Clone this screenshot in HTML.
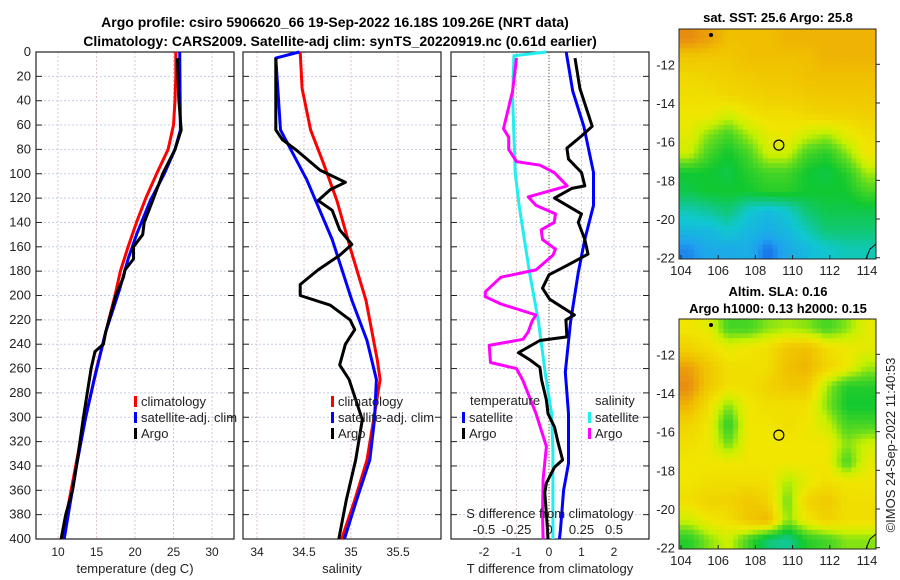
<!DOCTYPE html>
<html><head><meta charset="utf-8">
<style>
html,body{margin:0;padding:0;background:#fff;}
svg{display:block;font-family:"Liberation Sans","DejaVu Sans",sans-serif;}
.t{font-size:12px;fill:#222;}
.b{font-weight:bold;font-size:14px;fill:#000;}
</style></head>
<body>
<svg id="fig" width="900" height="580" viewBox="0 0 900 580" xmlns="http://www.w3.org/2000/svg">
<text class="b" x="335" y="27" text-anchor="middle">Argo profile: csiro 5906620_66 19-Sep-2022 16.18S 109.26E (NRT data)</text>
<text class="b" x="340" y="46" text-anchor="middle">Climatology: CARS2009. Satellite-adj clim: synTS_20220919.nc (0.61d earlier)</text>
<text class="b" x="778" y="22" text-anchor="middle" style="font-size:13px">sat. SST: 25.6 Argo: 25.8</text>
<text class="b" x="778" y="296" text-anchor="middle" style="font-size:13px">Altim. SLA: 0.16</text>
<text class="b" x="778" y="313" text-anchor="middle" style="font-size:13px">Argo h1000: 0.13 h2000: 0.15</text>
<text class="t" transform="translate(895,445) rotate(-90)" text-anchor="middle" style="font-size:13px">©IMOS 24-Sep-2022 11:40:53</text>
<g id="layer"></g>
</svg>
<script>
// ---------- data ----------
const depthTicks=[0,20,40,60,80,100,120,140,160,180,200,220,240,260,280,300,320,340,360,380,400];
const tempTicks=[10,15,20,25,30];
const salTicks=[34,34.5,35,35.5];
const tdiffTicks=[-2,-1,0,1,2];
const sdiffTicks=[-0.5,-0.25,0,0.25,0.5];
const sdiffLabels=["-0.5","-0.25","0","0.25","0.5"];

const tClimDepth=[0,20,40,60,80,100,120,140,160,180,200,220,240,260,280,300,320,340,360,380,400];
const tClimVal=[25.3,25.3,25.2,25.0,24.3,22.8,21.4,20.2,19.1,18.1,17.4,16.6,15.8,15.0,14.3,13.6,12.9,12.3,11.7,11.1,10.6];
const tSatDepth=[0,64,80,100,122,150,170,195,230,269,300,340,370,400];
const tSatVal=[25.8,25.9,25.2,23.8,22.0,20.2,19.1,18.0,16.2,14.7,13.6,12.4,11.6,10.8];
const tArgoDepth=[5,40,64,80,100,122,140,150,160,170,179,185,200,230,240,246,260,300,340,360,380,400];
const tArgoVal=[25.5,25.7,26.0,25.2,23.6,22.3,21.2,21.0,19.8,19.8,18.7,18.5,17.5,16.2,15.9,14.8,14.3,13.3,12.4,11.9,11.0,10.4];

const sClimDepth=[0,30,64,90,122,163,204,253,269,302,335,368,400];
const sClimVal=[34.46,34.48,34.57,34.7,34.85,35.0,35.16,35.28,35.31,35.24,35.17,35.04,34.9];
const sSatDepth=[0,5,64,105,154,204,237,269,302,335,368,400];
const sSatVal=[34.45,34.2,34.25,34.53,34.8,35.01,35.17,35.27,35.25,35.2,35.06,34.93];
const sArgoDepth=[5,64,72,80,97,107,113,122,130,146,158,167,179,191,200,208,220,228,240,257,269,302,335,368,400];
const sArgoVal=[34.2,34.2,34.27,34.41,34.67,34.94,34.78,34.65,34.8,34.88,35.01,34.88,34.65,34.46,34.46,34.78,34.99,35.04,34.94,34.88,34.98,35.12,35.05,34.95,34.87];

const dTSatDepth=[0,32,61,99,126,154,181,222,263,297,338,360,393,400];
const dTSatVal=[0.53,0.73,1.07,1.37,1.37,1.1,0.9,0.66,0.5,0.6,0.6,0.45,0.35,0.32];
const dTArgoDepth=[5,30,61,69,79,88,99,110,112,120,133,140,154,166,174,183,194,203,216,220,234,237,247,253,259,269,286,297,308,321,335,341,354,362,379,400];
const dTArgoVal=[0.8,0.95,1.33,1.0,0.55,0.6,1.0,1.1,0.7,0.17,1.0,0.9,1.1,1.2,0.65,0,-0.2,0.02,0.78,0.52,0.55,-0.28,-0.94,-0.58,-0.28,-0.23,-0.08,-0.03,0.17,0.28,0.42,0.17,-0.08,-0.13,-0.08,-0.03];
const dSSatDepth=[0,3,37,99,126,181,222,263,297,326,360,393,400];
const dSSatVal=[-0.02,-0.27,-0.28,-0.26,-0.23,-0.15,-0.08,-0.03,0.02,0.03,0.03,0.03,0.03];
const dSArgoDepth=[5,32,63,70,80,90,93,99,110,119,126,133,140,146,154,162,167,179,185,197,201,207,216,221,230,236,241,255,260,270,297,324,351,379,400];
const dSArgoVal=[-0.25,-0.28,-0.35,-0.31,-0.31,-0.25,-0.07,0.04,0.14,-0.16,-0.1,0.05,0.04,-0.06,-0.05,0.05,0.03,-0.1,-0.37,-0.49,-0.49,-0.37,-0.1,-0.13,-0.16,-0.2,-0.46,-0.45,-0.25,-0.2,-0.1,-0.02,-0.045,-0.05,-0.045];

const lonTicks=[104,106,108,110,112,114];
const latTicks=[-12,-14,-16,-18,-20,-22];
const sstGrid=[
[.88,.85,.8,.8,.8,.82,.82,.82,.82,.82],
[.78,.78,.78,.8,.8,.8,.8,.82,.82,.82],
[.74,.75,.76,.77,.78,.78,.8,.8,.8,.8],
[.72,.72,.74,.75,.76,.76,.77,.78,.78,.78],
[.7,.7,.65,.7,.72,.72,.74,.75,.75,.76],
[.68,.6,.55,.62,.68,.7,.65,.62,.68,.72],
[.65,.55,.5,.55,.65,.65,.55,.52,.6,.7],
[.5,.5,.48,.52,.55,.55,.5,.48,.52,.62],
[.48,.5,.5,.5,.52,.52,.5,.5,.5,.55],
[.4,.42,.45,.38,.35,.38,.45,.48,.48,.48],
[.35,.35,.38,.35,.33,.35,.4,.45,.45,.45],
[.28,.32,.32,.33,.26,.32,.35,.38,.4,.4]];
const slaGrid=[
[.7,.68,.55,.55,.6,.62,.6,.55,.6,.68],
[.75,.72,.68,.7,.72,.78,.8,.72,.7,.68],
[.85,.78,.72,.72,.72,.8,.82,.75,.7,.62],
[.88,.78,.72,.72,.75,.78,.78,.62,.52,.52],
[.82,.72,.6,.7,.72,.72,.72,.6,.5,.5],
[.75,.7,.52,.7,.7,.72,.7,.65,.55,.55],
[.72,.7,.58,.7,.7,.7,.7,.7,.6,.65],
[.7,.7,.7,.7,.7,.7,.7,.7,.55,.68],
[.7,.72,.72,.72,.72,.62,.68,.72,.7,.7],
[.72,.75,.75,.78,.75,.58,.75,.78,.72,.72],
[.65,.7,.72,.78,.82,.6,.7,.75,.72,.72],
[.52,.6,.65,.55,.45,.42,.52,.55,.6,.6]];
const argoLon=109.26, argoLat=-16.18;

// ---------- helpers ----------
const NS="http://www.w3.org/2000/svg";
const layer=document.getElementById('layer');
function mk(tag,attrs,parent){const e=document.createElementNS(NS,tag);for(const k in attrs)e.setAttribute(k,attrs[k]);(parent||layer).appendChild(e);return e;}
const TOP=52,BOT=539;
function yD(d){return TOP+d/400*(BOT-TOP);}
function linX(x0,x1,v0,v1){return v=>x0+(v-v0)/(v1-v0)*(x1-x0);}

function panel(name,x0,x1,xf,ticks,labels){
  const g=mk('g',{});
  
  
  ticks.forEach(t=>{const x=xf(t);const l=mk('line',{x1:x,x2:x,y1:TOP,y2:BOT,stroke:'#e4c4c4','stroke-width':1,'stroke-dasharray':'2,2'},g);
    });
  depthTicks.forEach(d=>{const y=yD(d);const l=mk('line',{x1:x0,x2:x1,y1:y,y2:y,stroke:'#c4cce8','stroke-width':1,'stroke-dasharray':'2,2'},g);
    
    mk('line',{x1:x0,x2:x0+6,y1:y,y2:y,stroke:'#222'},g);mk('line',{x1:x1-6,x2:x1,y1:y,y2:y,stroke:'#222'},g);});
  if(labels){ticks.forEach((t,i)=>{const tx=mk('text',{x:xf(t),y:556,'text-anchor':'middle',class:'t'},g);tx.textContent=labels[i];
    });}
  const r=mk('rect',{x:x0,y:TOP,width:x1-x0,height:BOT-TOP,fill:'none',stroke:'#222','stroke-width':1.2},g);
  
  return g;
}
function series(g,name,xf,depths,vals,color){
  const pts=depths.map((d,i)=>xf(vals[i]).toFixed(1)+','+yD(d).toFixed(1)).join(' ');
  const p=mk('polyline',{points:pts,fill:'none',stroke:color,'stroke-width':3,'stroke-linejoin':'round'},g);
  
  
}
function legendItem(g,name,x,y,color,label){
  const m=mk('rect',{x:x,y:y-9,width:3,height:11,fill:color},g);
  
  const t=mk('text',{x:x+7,y:y+1,class:'t',style:'font-size:13px'},g);t.textContent=label;
  
}

depthTicks.forEach(d=>{const t=mk('text',{x:31,y:yD(d)+4,'text-anchor':'end',class:'t',style:'font-size:13px'});t.textContent=d;
  });

const xT=linX(58,212,10,30);
const g1=panel('temperature-panel',36,234,xT,tempTicks,tempTicks.map(String));
series(g1,'temp-climatology-line',xT,tClimDepth,tClimVal,'#ff0000');
series(g1,'temp-satellite-line',xT,tSatDepth,tSatVal,'#0000ff');
series(g1,'temp-argo-line',xT,tArgoDepth,tArgoVal,'#000000');
legendItem(g1,'legend-climatology',134,405,'#ff0000','climatology');
legendItem(g1,'legend-satellite-adj-clim',134,421,'#0000ff','satellite-adj. clim');
legendItem(g1,'legend-argo',134,437,'#000','Argo');
let at=mk('text',{x:135,y:573,'text-anchor':'middle',class:'t',style:'font-size:13px'});at.textContent='temperature (deg C)';


const xS=linX(257,398,34,35.5);
const g2=panel('salinity-panel',243,441,xS,salTicks,salTicks.map(String));
series(g2,'sal-climatology-line',xS,sClimDepth,sClimVal,'#ff0000');
series(g2,'sal-satellite-line',xS,sSatDepth,sSatVal,'#0000ff');
series(g2,'sal-argo-line',xS,sArgoDepth,sArgoVal,'#000000');
legendItem(g2,'legend-climatology',331,405,'#ff0000','climatology');
legendItem(g2,'legend-satellite-adj-clim',331,421,'#0000ff','satellite-adj. clim');
legendItem(g2,'legend-argo',331,437,'#000','Argo');
at=mk('text',{x:342,y:573,'text-anchor':'middle',class:'t',style:'font-size:13px'});at.textContent='salinity';


const xDT=linX(484,614,-2,2);
const xDS=linX(484,614,-0.5,0.5);
const g3=panel('difference-panel',451,649,xDT,tdiffTicks,tdiffTicks.map(String));
const z=mk('line',{x1:xDT(0),x2:xDT(0),y1:TOP,y2:BOT,stroke:'#556633','stroke-width':1,'stroke-dasharray':'1,2'},g3);

series(g3,'sdiff-satellite-line',xDS,dSSatDepth,dSSatVal,'#22eeee');
series(g3,'sdiff-argo-line',xDS,dSArgoDepth,dSArgoVal,'#ff00ff');
series(g3,'tdiff-satellite-line',xDT,dTSatDepth,dTSatVal,'#0000ff');
series(g3,'tdiff-argo-line',xDT,dTArgoDepth,dTArgoVal,'#000000');
let lt=mk('text',{x:470,y:405,class:'t',style:'font-size:13px'},g3);lt.textContent='temperature';

lt=mk('text',{x:595,y:405,class:'t',style:'font-size:13px'},g3);lt.textContent='salinity';

legendItem(g3,'legend-t-satellite',462,421,'#0000ff','satellite');
legendItem(g3,'legend-t-argo',462,437,'#000','Argo');
legendItem(g3,'legend-s-satellite',588,421,'#22eeee','satellite');
legendItem(g3,'legend-s-argo',588,437,'#ff00ff','Argo');
lt=mk('text',{x:550,y:518,'text-anchor':'middle',class:'t',style:'font-size:13px'},g3);lt.textContent='S difference from climatology';

sdiffTicks.forEach((s,i)=>{const t=mk('text',{x:xDS(s),y:534,'text-anchor':'middle',class:'t',style:'font-size:13px'},g3);t.textContent=sdiffLabels[i];
  });
at=mk('text',{x:550,y:573,'text-anchor':'middle',class:'t',style:'font-size:13px'});at.textContent='T difference from climatology';


// ---------- maps ----------
const stops=[[0.22,[16,64,224]],[0.3,[32,160,240]],[0.38,[16,200,208]],[0.5,[16,200,48]],[0.58,[100,220,30]],[0.64,[200,240,0]],[0.7,[240,230,0]],[0.8,[240,192,0]],[0.88,[232,140,16]],[1,[192,80,16]]];
function cmap(v){if(v<=stops[0][0])return 'rgb('+stops[0][1]+')';
  for(let i=1;i<stops.length;i++){if(v<=stops[i][0]){const a=stops[i-1],b=stops[i];const f=(v-a[0])/(b[0]-a[0]);
    return 'rgb('+a[1].map((c,k)=>Math.round(c+(b[1][k]-c)*f)).join(',')+')';}}
  return 'rgb('+stops[stops.length-1][1]+')';}
function sample(grid,fr,fc){
  const R=grid.length-1,C=grid[0].length-1;
  fr=Math.max(0,Math.min(R,fr));fc=Math.max(0,Math.min(C,fc));
  const r0=Math.floor(fr),c0=Math.floor(fc),r1=Math.min(R,r0+1),c1=Math.min(C,c0+1);
  const a=fr-r0,b=fc-c0;
  return grid[r0][c0]*(1-a)*(1-b)+grid[r0][c1]*(1-a)*b+grid[r1][c0]*a*(1-b)+grid[r1][c1]*a*b;
}
function mapPanel(name,grid,y0,y1){
  const x0=679,x1=876;
  const g=mk('g',{});
  const lonX=linX(681,867,104,114);
  const latY=linX(y0+35.3,y0+228.7,-12,-22);
  const rows=grid.length,cols=grid[0].length;const S=4;
  const cw=(x1-x0)/(cols*S),ch=(y1-y0)/(rows*S);
  for(let r=0;r<rows*S;r++)for(let c=0;c<cols*S;c++){
    const v=sample(grid,(r+0.5)/S-0.5,(c+0.5)/S-0.5);
    const e=mk('rect',{x:(x0+c*cw).toFixed(2),y:(y0+r*ch).toFixed(2),width:(cw+0.5).toFixed(2),height:(ch+0.5).toFixed(2),fill:cmap(v)},g);
    
    
  }
  mk('rect',{x:x0,y:y0,width:x1-x0,height:y1-y0,fill:'none',stroke:'#222'},g);
  lonTicks.forEach(l=>{const x=lonX(l);mk('line',{x1:x,x2:x,y1:y1,y2:y1-4,stroke:'#222'},g);
    const t=mk('text',{x:x,y:y1+16,'text-anchor':'middle',class:'t',style:'font-size:13px'},g);t.textContent=l;
    });
  latTicks.forEach(l=>{const y=latY(l);mk('line',{x1:x1,x2:x1+4,y1:y,y2:y,stroke:'#222'},g);
    const t=mk('text',{x:675,y:y+5,'text-anchor':'end',class:'t',style:'font-size:13px'},g);t.textContent=l;
    });
  const c=mk('circle',{cx:lonX(argoLon),cy:latY(argoLat),r:5,fill:'none',stroke:'#000','stroke-width':1.2},g);
  
  mk('circle',{cx:711,cy:y0+6,r:2,fill:'#000'},g);
  mk('path',{d:'M866 '+(y1)+' L870 '+(y1-10)+' L876 '+(y1-15),fill:'none',stroke:'#000'},g);
}
mapPanel('sst-map',sstGrid,29,259);
mapPanel('sla-map',slaGrid,319,549);
</script>
</body></html>
